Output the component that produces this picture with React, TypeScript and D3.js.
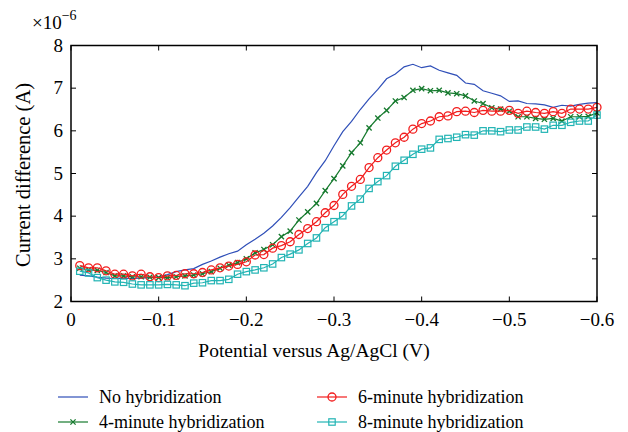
import React from "react";
import * as d3 from "d3";

const potentials: number[] = d3.range(1, 61).map((i) => -i / 100);

const noHyb: number[] = [
  2.62, 2.6, 2.57, 2.55, 2.54, 2.55, 2.54, 2.55, 2.56, 2.58,
  2.63, 2.7, 2.74, 2.77, 2.87, 2.95, 3.04, 3.12, 3.18, 3.33,
  3.46, 3.6, 3.77, 3.97, 4.2, 4.45, 4.7, 5.02, 5.3, 5.65,
  5.98, 6.22, 6.5, 6.75, 6.97, 7.22, 7.33, 7.5, 7.56, 7.48,
  7.52, 7.42, 7.36, 7.3, 7.12, 7.09, 6.94, 6.88, 6.82, 6.69,
  6.7, 6.64, 6.63, 6.61, 6.55, 6.6, 6.58, 6.62, 6.65, 6.66,
];

const hyb4: number[] = [
  2.78, 2.74, 2.73, 2.68, 2.6, 2.6, 2.58, 2.58, 2.57, 2.56,
  2.56, 2.58, 2.6, 2.62, 2.65, 2.7, 2.78, 2.85, 2.91, 3.0,
  3.14, 3.22, 3.33, 3.52, 3.65, 3.91, 4.1, 4.3, 4.6, 4.88,
  5.18, 5.49, 5.72, 6.07, 6.3, 6.48, 6.7, 6.78, 6.95, 6.99,
  6.94, 6.95, 6.89, 6.87, 6.82, 6.7, 6.64, 6.54, 6.51, 6.46,
  6.33, 6.33, 6.29, 6.27, 6.29, 6.23, 6.33, 6.33, 6.34, 6.42,
];

const hyb6: number[] = [
  2.84, 2.79, 2.79, 2.72, 2.64, 2.64, 2.6, 2.64, 2.58, 2.56,
  2.6, 2.61, 2.65, 2.65, 2.68, 2.74, 2.79, 2.83, 2.87, 2.93,
  3.09, 3.1, 3.25, 3.31, 3.4, 3.57, 3.71, 3.87, 4.08, 4.25,
  4.51, 4.7, 4.86, 5.14, 5.37, 5.55, 5.72, 5.85, 6.04, 6.17,
  6.23, 6.33, 6.35, 6.45, 6.46, 6.43, 6.48, 6.46, 6.46, 6.48,
  6.41, 6.46, 6.43, 6.41, 6.45, 6.41, 6.51, 6.51, 6.51, 6.55,
];

const hyb8: number[] = [
  2.71, 2.67, 2.56, 2.5, 2.46, 2.45, 2.41, 2.39, 2.39, 2.39,
  2.4, 2.39, 2.37, 2.43, 2.44, 2.49, 2.49, 2.52, 2.64, 2.7,
  2.74, 2.79, 2.88, 3.03, 3.11, 3.21, 3.36, 3.49, 3.73, 3.87,
  4.01, 4.24, 4.4, 4.65, 4.81, 4.95, 5.17, 5.31, 5.45, 5.57,
  5.6, 5.8, 5.82, 5.85, 5.91, 5.9, 6.0, 6.0, 5.98, 6.02,
  6.02, 6.09, 6.09, 6.04, 6.13, 6.13, 6.2, 6.23, 6.23, 6.37,
];

const xTicks: number[] = [0, -0.1, -0.2, -0.3, -0.4, -0.5, -0.6];
const yTicks: number[] = [2, 3, 4, 5, 6, 7, 8];

const seriesNames = [
  "No hybridization",
  "4-minute hybridization",
  "6-minute hybridization",
  "8-minute hybridization",
];
const seriesColors = ["#2f4fb8", "#167a2e", "#f21d1d", "#22b4b4"];
const seriesMarkers = ["none", "x", "circle", "square"];
const seriesData = [noHyb, hyb4, hyb6, hyb8];

const FONT = "Liberation Serif, DejaVu Serif, serif";

function Marker({ type, x, y, color }: { type: string; x: number; y: number; color: string }) {
  if (type === "circle")
    return <circle cx={x} cy={y} r={4} fill="none" stroke={color} strokeWidth={1.3} />;
  if (type === "square")
    return <rect x={x - 3.2} y={y - 3.2} width={6.4} height={6.4} fill="none" stroke={color} strokeWidth={1.2} />;
  if (type === "x")
    return (
      <path
        d={`M${x - 2.6},${y - 2.6}L${x + 2.6},${y + 2.6}M${x - 2.6},${y + 2.6}L${x + 2.6},${y - 2.6}`}
        stroke={color}
        strokeWidth={1.3}
      />
    );
  return null;
}

export default function App() {
  const W = 628;
  const H = 432;
  const left = 71;
  const right = 597;
  const top = 45.5;
  const bottom = 301.5;
  const x = d3.scaleLinear().domain([0, -0.6]).range([left, right]);
  const y = d3.scaleLinear().domain([2, 8]).range([bottom, top]);
  const line = d3
    .line<number>()
    .x((_, i) => x(potentials[i]))
    .y((d) => y(d));
  const fmt = (v: number) => (v === 0 ? "0" : "\u2212" + Math.abs(v).toFixed(1));
  const tickLen = 5;
  const fs = 18;

  const legendItems = [
    { i: 0, lx: 58, ly: 397 },
    { i: 1, lx: 58, ly: 422 },
    { i: 2, lx: 317, ly: 397 },
    { i: 3, lx: 317, ly: 422 },
  ];

  return (
    <div style={{ position: "absolute", left: 0, top: 0 }}>
      <svg width={W} height={H} style={{ display: "block", background: "#fff", fontFamily: FONT }}>
        <rect x={0} y={0} width={W} height={H} fill="#fff" />
        {seriesData.map((data, s) => (
          <g key={s}>
            <path d={line(data) || ""} fill="none" stroke={seriesColors[s]} strokeWidth={1.2} />
            {data.map((d, i) => (
              <Marker key={i} type={seriesMarkers[s]} x={x(potentials[i])} y={y(d)} color={seriesColors[s]} />
            ))}
          </g>
        ))}
        <rect x={left} y={top} width={right - left} height={bottom - top} fill="none" stroke="#000" strokeWidth={1.5} />
        {xTicks.map((t) => (
          <g key={t}>
            <line x1={x(t)} x2={x(t)} y1={bottom} y2={bottom - tickLen} stroke="#000" strokeWidth={1} />
            <line x1={x(t)} x2={x(t)} y1={top} y2={top + tickLen} stroke="#000" strokeWidth={1} />
            <text x={x(t)} y={326} textAnchor="middle" fontSize={19} fill="#000">
              {fmt(t)}
            </text>
          </g>
        ))}
        {yTicks.map((t) => (
          <g key={t}>
            <line x1={left} x2={left + tickLen} y1={y(t)} y2={y(t)} stroke="#000" strokeWidth={1} />
            <line x1={right} x2={right - tickLen} y1={y(t)} y2={y(t)} stroke="#000" strokeWidth={1} />
            <text x={63} y={y(t) + 6} textAnchor="end" fontSize={19} fill="#000">
              {t}
            </text>
          </g>
        ))}
        <text x={32} y={29} fontSize={19} fill="#000">
          ×10
          <tspan dy={-9} fontSize={14}>
            −6
          </tspan>
        </text>
        <text x={314} y={357} textAnchor="middle" fontSize={19.5} fill="#000">
          Potential versus Ag/AgCl (V)
        </text>
        <text
          transform={`translate(30, 175) rotate(-90)`}
          textAnchor="middle"
          fontSize={20.5}
          fill="#000"
        >
          Current difference (A)
        </text>
        {legendItems.map(({ i, lx, ly }) => (
          <g key={i}>
            <line x1={lx} x2={lx + 30} y1={ly} y2={ly} stroke={seriesColors[i]} strokeWidth={1.2} />
            <Marker type={seriesMarkers[i]} x={lx + 15} y={ly} color={seriesColors[i]} />
            <text x={lx + 41} y={ly + 6} fontSize={fs} fill="#000">
              {seriesNames[i]}
            </text>
          </g>
        ))}
      </svg>
    </div>
  );
}
